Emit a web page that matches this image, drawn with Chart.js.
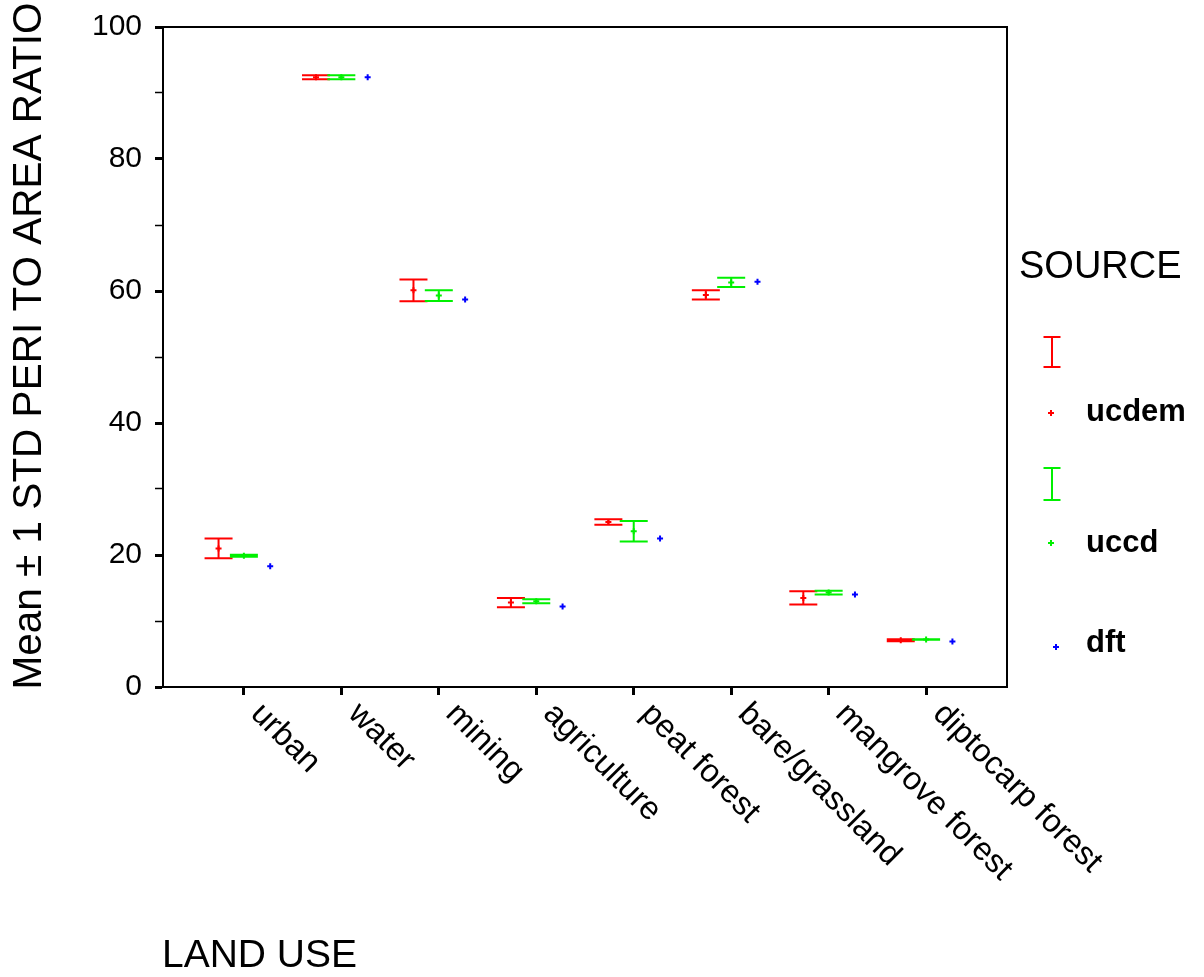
<!DOCTYPE html>
<html>
<head>
<meta charset="utf-8">
<script src="https://cdn.jsdelivr.net/npm/chart.js@4.4.1/dist/chart.umd.min.js"></script>
<style>
  html, body { margin: 0; padding: 0; background: #fff; }
  #wrap { width: 1204px; height: 977px; position: relative; }
</style>
</head>
<body>
<div id="wrap"><canvas id="chart"></canvas></div>
<script>
// land use classes on the x axis
const categories = ['urban', 'water', 'mining', 'agriculture', 'peat forest', 'bare/grassland', 'mangrove forest', 'diptocarp forest'];

// mean peri/area ratio and 1 std per source
const ucdemMean = [21.0, 92.4, 60.1, 12.8, 25.0, 59.4, 13.5, 7.1];
const ucdemStd = [1.5, 0.3, 1.65, 0.7, 0.4, 0.7, 1.0, 0.15];
const uccdMean = [19.9, 92.4, 59.3, 13.0, 23.6, 61.3, 14.3, 7.2];
const uccdStd = [0.15, 0.3, 0.8, 0.3, 1.55, 0.7, 0.3, 0.05];
const dftMean = [18.3, 92.4, 58.7, 12.2, 22.5, 61.4, 14.0, 6.9];

const yTicks = [0, 20, 40, 60, 80, 100];

const FONT = '"Liberation Sans", Arial, sans-serif';
const GREEN = '#00f000';

function points(means, shift) {
    return means.map((m, i) => ({ x: i + 1 + shift, y: m }));
}

function mkSeries(label, means, errs, color, shift) {
    return {
        label: label,
        data: points(means, shift),
        errors: errs,
        borderColor: color,
        backgroundColor: color,
        pointStyle: 'cross',
        pointRadius: 3,
        pointBorderWidth: 2,
        showLine: false
    };
}

const errorBars = {
    id: 'errorBars',
    beforeDatasetsDraw(chart) {
        const ctx = chart.ctx;
        const x = chart.scales.x, y = chart.scales.y;
        chart.data.datasets.forEach(ds => {
            if (!ds.errors) return;
            ctx.save();
            ctx.strokeStyle = ds.borderColor;
            ctx.lineWidth = 2;
            ds.data.forEach((p, i) => {
                const px = x.getPixelForValue(p.x);
                const top = y.getPixelForValue(p.y + ds.errors[i]);
                const bot = y.getPixelForValue(p.y - ds.errors[i]);
                ctx.beginPath();
                ctx.moveTo(px, top); ctx.lineTo(px, bot);
                ctx.moveTo(px - 14, top); ctx.lineTo(px + 14, top);
                ctx.moveTo(px - 14, bot); ctx.lineTo(px + 14, bot);
                ctx.stroke();
            });
            ctx.restore();
        });
    }
};

function cross(ctx, x, y, color) {
    ctx.strokeStyle = color;
    ctx.lineWidth = 2;
    ctx.beginPath();
    ctx.moveTo(x - 3, y); ctx.lineTo(x + 3, y);
    ctx.moveTo(x, y - 3); ctx.lineTo(x, y + 3);
    ctx.stroke();
}

function ibar(ctx, x, y1, y2, color) {
    ctx.strokeStyle = color;
    ctx.lineWidth = 2;
    ctx.beginPath();
    ctx.moveTo(x, y1); ctx.lineTo(x, y2);
    ctx.moveTo(x - 8.5, y1); ctx.lineTo(x + 8.5, y1);
    ctx.moveTo(x - 8.5, y2); ctx.lineTo(x + 8.5, y2);
    ctx.stroke();
}

const decorations = {
    id: 'decorations',
    afterDraw(chart) {
        const ctx = chart.ctx;
        const ca = chart.chartArea;
        const x = chart.scales.x;
        ctx.save();
        // frame
        ctx.strokeStyle = '#000';
        ctx.lineWidth = 2;
        ctx.strokeRect(ca.left, ca.top, ca.right - ca.left, ca.bottom - ca.top);

        ctx.fillStyle = '#000';
        // slanted category labels
        ctx.font = '32.5px ' + FONT;
        ctx.textAlign = 'left';
        ctx.textBaseline = 'middle';
        categories.forEach((c, i) => {
            const px = x.getPixelForValue(i + 1);
            ctx.save();
            ctx.translate(px + 12, ca.bottom + 22);
            ctx.rotate(Math.PI / 4);
            ctx.fillText(c, 0, 0);
            ctx.restore();
        });

        // y title
        ctx.save();
        ctx.font = '40.5px ' + FONT;
        ctx.textAlign = 'center';
        ctx.translate(30, 346);
        ctx.rotate(-Math.PI / 2);
        ctx.fillText('Mean \u00b1 1 STD PERI TO AREA RATIO', 0, 0);
        ctx.restore();

        // x title
        ctx.font = '39px ' + FONT;
        ctx.textAlign = 'left';
        ctx.textBaseline = 'alphabetic';
        ctx.fillText('LAND USE', 162, 967);

        // legend
        ctx.font = '38px ' + FONT;
        ctx.fillText('SOURCE', 1019, 278);
        ibar(ctx, 1052, 337, 367, '#ff0000');
        cross(ctx, 1051, 413, '#ff0000');
        ibar(ctx, 1052, 468, 500, GREEN);
        cross(ctx, 1051, 543, GREEN);
        cross(ctx, 1056, 647, '#0000ff');
        ctx.fillStyle = '#000';
        ctx.font = 'bold 31px ' + FONT;
        ctx.fillText('ucdem', 1086, 421);
        ctx.fillText('uccd', 1086, 552);
        ctx.fillText('dft', 1086, 652);
        ctx.restore();
    }
};

new Chart(document.getElementById('chart'), {
    type: 'scatter',
    data: {
        datasets: [
            mkSeries('ucdem', ucdemMean, ucdemStd, '#ff0000', -0.26),
            mkSeries('uccd', uccdMean, uccdStd, GREEN, 0),
            mkSeries('dft', dftMean, null, '#0000ff', 0.27)
        ]
    },
    options: {
        responsive: true,
        maintainAspectRatio: false,
        animation: false,
        layout: { padding: { top: 27, right: 197, left: 0, bottom: 0 } },
        plugins: {
            legend: { display: false },
            tooltip: { enabled: false }
        },
        scales: {
            x: {
                type: 'linear',
                min: 0.17,
                max: 8.83,
                afterBuildTicks: s => { s.ticks = categories.map((c, i) => ({ value: i + 1 })); },
                afterFit: s => { s.height = 290; s.paddingLeft = 0; s.paddingRight = 0; },
                ticks: { display: false },
                grid: { drawOnChartArea: false, drawTicks: true, tickLength: 8, tickWidth: 3, tickColor: '#000' },
                border: { color: '#000', width: 2 }
            },
            y: {
                min: 0,
                max: 100,
                afterBuildTicks: s => {
                    const t = [];
                    for (let v = 0; v <= 100; v += 10) t.push({ value: v });
                    s.ticks = t;
                },
                afterFit: s => { s.width = 163; s.paddingTop = 0; s.paddingBottom = 0; },
                ticks: {
                    callback: v => yTicks.includes(v) ? String(v) : '',
                    font: { size: 30, family: FONT },
                    color: '#000',
                    padding: 13
                },
                grid: {
                    drawOnChartArea: false,
                    drawTicks: true,
                    tickLength: 8,
                    tickWidth: c => yTicks.includes(c.tick.value) ? 3 : 1.5,
                    tickColor: '#000'
                },
                border: { color: '#000', width: 2 }
            }
        }
    },
    plugins: [errorBars, decorations]
});
</script>
</body>
</html>
